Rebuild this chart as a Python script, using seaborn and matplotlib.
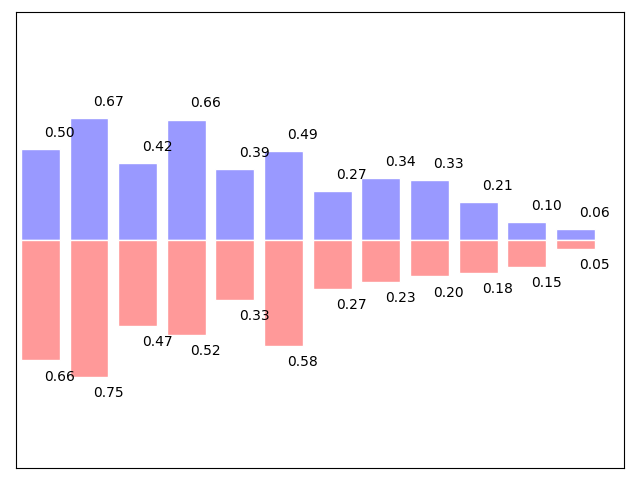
import numpy as np
import matplotlib
matplotlib.use("Agg")
import matplotlib.pyplot as plt
import seaborn as sns

positions = list(range(12))
upper_values = [0.50, 0.67, 0.42, 0.66, 0.39, 0.49, 0.27, 0.34, 0.33, 0.21, 0.10, 0.06]
lower_values = [0.66, 0.75, 0.47, 0.52, 0.33, 0.58, 0.27, 0.23, 0.20, 0.18, 0.15, 0.05]

fig = plt.figure(figsize=(6.4, 4.8), dpi=100)
ax = fig.add_axes([0.025, 0.025, 0.95, 0.95])

X = np.array(positions)
Y1 = np.array(upper_values)
Y2 = np.array(lower_values)

sns.barplot(x=X, y=Y1, native_scale=True, color='#9999ff', saturation=1,
            edgecolor='white', width=0.8, ax=ax)
sns.barplot(x=X, y=-Y2, native_scale=True, color='#ff9999', saturation=1,
            edgecolor='white', width=0.8, ax=ax)

for x, y in zip(X, Y1):
    ax.text(x + 0.4, y + 0.05, '%.2f' % y, ha='center', va='bottom', fontsize=10)
for x, y in zip(X, Y2):
    ax.text(x + 0.4, -y - 0.05, '%.2f' % y, ha='center', va='top', fontsize=10)

ax.set_xlim(-0.5, len(X))
ax.set_ylim(-1.25, 1.25)
ax.set_xticks([])
ax.set_yticks([])
ax.set_xlabel('')
ax.set_ylabel('')
for s in ax.spines.values():
    s.set_visible(True)
    s.set_color('black')

fig.savefig('out.png', dpi=100)
